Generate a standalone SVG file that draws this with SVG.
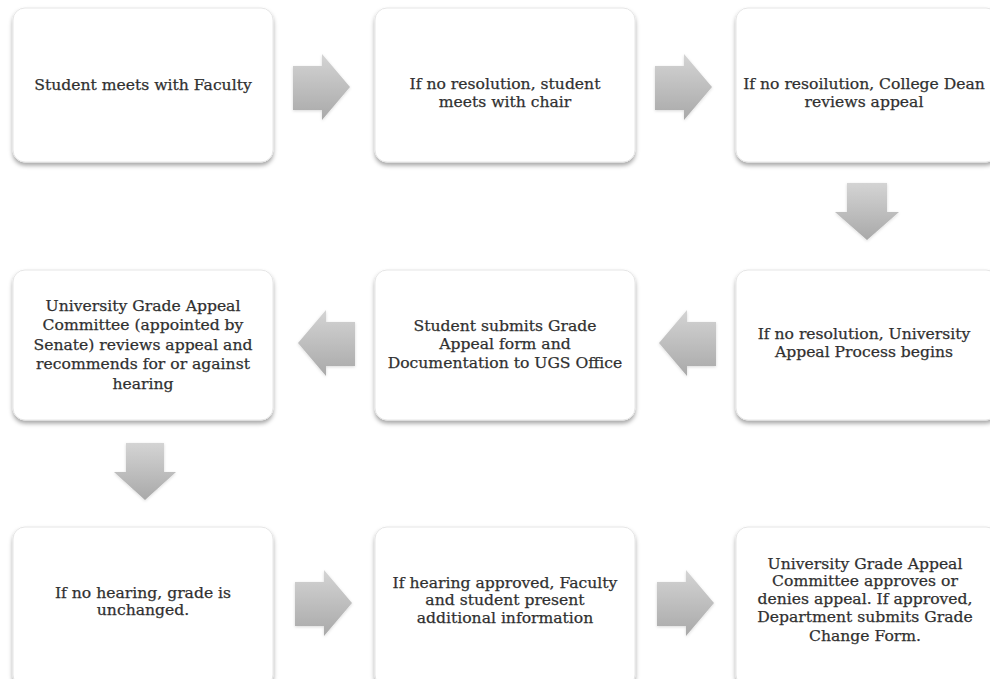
<svg xmlns="http://www.w3.org/2000/svg" width="990" height="679" viewBox="0 0 990 679">
<style>
.box{fill:#fff;stroke:#e6e6e6;stroke-width:1;filter:url(#sh)}
.arr{fill:url(#ag);filter:url(#ash)}
text{font-family:"DejaVu Serif","Liberation Serif",serif;font-size:15.6px;fill:#303030;stroke:#303030;stroke-width:0.25;text-anchor:middle}
</style>
<defs>
<filter id="sh" x="-10%" y="-10%" width="120%" height="125%">
<feDropShadow dx="0" dy="3" stdDeviation="2" flood-color="#000" flood-opacity="0.35"/>
</filter>
<filter id="ash" x="-20%" y="-20%" width="140%" height="140%">
<feDropShadow dx="0" dy="1" stdDeviation="1.5" flood-color="#000" flood-opacity="0.15"/>
</filter>
<linearGradient id="ag" x1="0" y1="0" x2="0" y2="1">
<stop offset="0" stop-color="#d4d4d4"/>
<stop offset="1" stop-color="#a9a9a9"/>
</linearGradient>
</defs>
<rect width="990" height="679" fill="#fff"/>
<g id="connectors">
<path class="arr" d="M293,66 h29 v-12 l28,33 l-28,33 v-10 h-29 z"/>
<path class="arr" d="M655,66 h29 v-12 l28,33 l-28,33 v-10 h-29 z"/>
<path class="arr" d="M847,183 v29 h-12 l32,28 l32,-28 h-12 v-29 z"/>
<path class="arr" d="M716,322 h-29 v-12 l-28,33 l28,33 v-10 h29 z"/>
<path class="arr" d="M355,322 h-29 v-12 l-28,33 l28,33 v-10 h29 z"/>
<path class="arr" d="M126,443 v29 h-12 l31,28 l31,-28 h-12 v-29 z"/>
<path class="arr" d="M295,582 h29 v-12 l28,33 l-28,33 v-10 h-29 z"/>
<path class="arr" d="M657,582 h29 v-12 l28,33 l-28,33 v-10 h-29 z"/>
</g>
<g id="n1"><rect class="box" x="13" y="8" width="260" height="154" rx="12"/>
<text x="143" y="90">Student meets with Faculty</text></g>
<g id="n2"><rect class="box" x="375" y="8" width="260" height="154" rx="12"/>
<text x="505" y="89">If no resolution, student</text><text x="505" y="106.5">meets with chair</text></g>
<g id="n3"><rect class="box" x="736" y="8" width="262" height="154" rx="12"/>
<text x="864" y="89">If no resoilution, College Dean</text><text x="864" y="106.5">reviews appeal</text></g>
<g id="n4"><rect class="box" x="13" y="270" width="260" height="150" rx="12"/>
<text x="143" y="311">University Grade Appeal</text><text x="143" y="330">Committee (appointed by</text><text x="143" y="350">Senate) reviews appeal and</text><text x="143" y="369">recommends for or against</text><text x="143" y="389">hearing</text></g>
<g id="n5"><rect class="box" x="375" y="270" width="260" height="150" rx="12"/>
<text x="505" y="331">Student submits Grade</text><text x="505" y="349">Appeal form and</text><text x="505" y="368">Documentation to UGS Office</text></g>
<g id="n6"><rect class="box" x="736" y="270" width="262" height="150" rx="12"/>
<text x="864" y="339">If no resolution, University</text><text x="864" y="357">Appeal Process begins</text></g>
<g id="n7"><rect class="box" x="13" y="527" width="260" height="160" rx="12"/>
<text x="143" y="597.5">If no hearing, grade is</text><text x="143" y="615">unchanged.</text></g>
<g id="n8"><rect class="box" x="375" y="527" width="260" height="160" rx="12"/>
<text x="505" y="587.5">If hearing approved, Faculty</text><text x="505" y="605">and student present</text><text x="505" y="622.5">additional information</text></g>
<g id="n9"><rect class="box" x="736" y="527" width="262" height="160" rx="12"/>
<text x="865" y="568.5">University Grade Appeal</text><text x="865" y="586">Committee approves or</text><text x="865" y="604">denies appeal. If approved,</text><text x="865" y="621.5">Department submits Grade</text><text x="865" y="641">Change Form.</text></g>
</svg>
